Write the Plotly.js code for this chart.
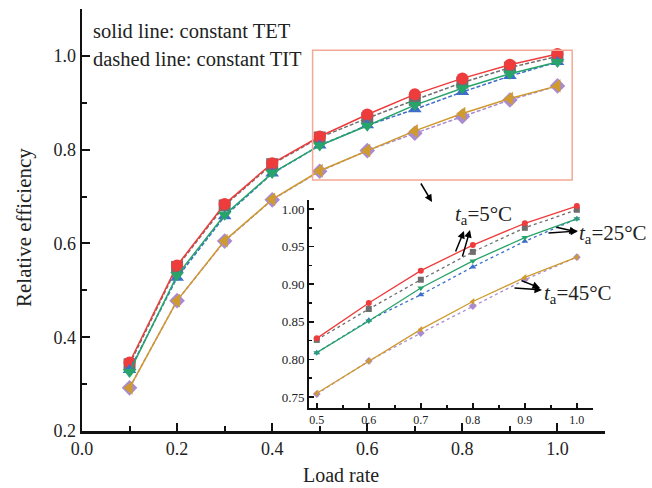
<!DOCTYPE html>
<html><head><meta charset="utf-8">
<script src="https://cdn.plot.ly/plotly-3.0.1.min.js"></script>
<style>html,body{margin:0;padding:0;background:#fff}#chart{width:652px;height:488px}</style>
</head><body><div id="chart"></div>
<script>
// ---- data ----
const loadRate = [0.1, 0.2, 0.3, 0.4, 0.5, 0.6, 0.7, 0.8, 0.9, 1.0];
const tet5  = [0.346, 0.553, 0.684, 0.771, 0.828, 0.875, 0.918, 0.952, 0.981, 1.004];
const tit5  = [0.342, 0.550, 0.681, 0.769, 0.826, 0.867, 0.906, 0.943, 0.975, 0.999];
const tet25 = [0.326, 0.532, 0.661, 0.750, 0.809, 0.851, 0.895, 0.931, 0.962, 0.987];
const tit25 = [0.330, 0.527, 0.658, 0.749, 0.809, 0.852, 0.886, 0.923, 0.957, 0.987];
const tet45 = [0.292, 0.478, 0.606, 0.694, 0.755, 0.798, 0.840, 0.877, 0.909, 0.936];
const tit45 = [0.292, 0.478, 0.605, 0.693, 0.754, 0.798, 0.835, 0.871, 0.906, 0.936];
const insetX = loadRate.slice(4);
const mainXTicks = [0.0, 0.2, 0.4, 0.6, 0.8, 1.0];
const mainYTicks = [0.2, 0.4, 0.6, 0.8, 1.0];
const insetXTicks = [0.5, 0.6, 0.7, 0.8, 0.9, 1.0];
const insetYTicks = [0.75, 0.80, 0.85, 0.90, 0.95, 1.00];

// ---- styles ----
const FONT = 'Liberation Serif, Times New Roman, serif';
const seriesDefs = [
  {y: tit5,  color: '#6e6e6e', solid: false, sym: 'square'},
  {y: tet5,  color: '#ee3b3b', solid: true,  sym: 'circle'},
  {y: tit25, color: '#3d6ec9', solid: false, sym: 'triangle-up'},
  {y: tet25, color: '#27a46a', solid: true,  sym: 'triangle-down'},
  {y: tit45, color: '#a98bd0', solid: false, sym: 'diamond'},
  {y: tet45, color: '#cf9a2e', solid: true,  sym: 'triangle-left'}
];
const traces = [];
seriesDefs.forEach(s => {
  traces.push({x: loadRate, y: s.y, xaxis: 'x', yaxis: 'y', type: 'scatter', mode: 'lines+markers',
    line: {color: s.color, width: 1.5, dash: s.solid ? 'solid' : '4px,2px'},
    marker: {symbol: s.sym, size: 12, color: s.color}});
});
seriesDefs.forEach(s => {
  traces.push({x: insetX, y: s.y.slice(4), xaxis: 'x2', yaxis: 'y2', type: 'scatter', mode: 'lines+markers',
    line: {color: s.color, width: 1.3, dash: s.solid ? 'solid' : 'dot'},
    marker: {symbol: s.sym, size: 6, color: s.color}});
});

const insetXRange = [0.485, 1.031];
const insetYRange = [0.7354, 1.012];

// pixel -> paper helpers (plot area: x 82..605, y 9..431)
const PX = px => (px - 82) / 523;
const PY = py => (431 - py) / 422;
function arrow(hx, hy, tx, ty) {
  return {xref: 'paper', yref: 'paper', x: PX(hx), y: PY(hy), ax: tx - hx, ay: ty - hy,
    showarrow: true, arrowhead: 2, arrowsize: 1, arrowwidth: 1.5, arrowcolor: '#000',
    standoff: 0, startstandoff: 0, text: ''};
}
function label(txt, px, py, size) {
  return {xref: 'paper', yref: 'paper', x: PX(px), y: PY(py), xanchor: 'left', yanchor: 'middle',
    showarrow: false, text: txt, font: {family: FONT, size: size, color: '#222'}};
}

const layout = {
  width: 652, height: 488,
  margin: {l: 82, r: 47, t: 9, b: 57},
  paper_bgcolor: '#fff', plot_bgcolor: 'rgba(0,0,0,0)',
  showlegend: false,
  font: {family: FONT, color: '#222'},
  xaxis: {domain: [0, 1], range: [0, 1.1], tickvals: mainXTicks, tickformat: '.1f',
    ticks: 'inside', ticklen: 8, tickwidth: 2, tickcolor: '#111',
    showline: true, linewidth: 2.5, linecolor: '#111', showgrid: false, zeroline: false,
    tickfont: {size: 18, family: FONT, color: '#222'},
    minor: {dtick: 0.1, tick0: 0, ticks: 'inside', ticklen: 5, tickwidth: 2, tickcolor: '#111', showgrid: false}},
  yaxis: {domain: [0, 1], range: [0.2, 1.1], tickvals: mainYTicks, tickformat: '.1f',
    ticks: 'inside', ticklen: 8, tickwidth: 2, tickcolor: '#111',
    showline: true, linewidth: 2.5, linecolor: '#111', showgrid: false, zeroline: false,
    tickfont: {size: 18, family: FONT, color: '#222'},
    minor: {dtick: 0.1, tick0: 0, ticks: 'inside', ticklen: 5, tickwidth: 2, tickcolor: '#111', showgrid: false}},
  xaxis2: {anchor: 'y2', domain: [0.434, 0.977], range: insetXRange, tickvals: insetXTicks, tickformat: '.1f',
    ticks: 'inside', ticklen: 5, tickwidth: 1.5, tickcolor: '#111',
    showline: true, linewidth: 2, linecolor: '#111', showgrid: false, zeroline: false,
    tickfont: {size: 12, family: FONT, color: '#222'},
    minor: {dtick: 0.05, tick0: 0.5, ticks: 'inside', ticklen: 3, tickwidth: 1.5, tickcolor: '#111', showgrid: false}},
  yaxis2: {anchor: 'x2', domain: [0.0545, 0.5474], range: insetYRange, tickvals: insetYTicks, tickformat: '.2f',
    ticks: 'inside', ticklen: 5, tickwidth: 1.5, tickcolor: '#111',
    showline: true, linewidth: 2, linecolor: '#111', showgrid: false, zeroline: false,
    tickfont: {size: 13, family: FONT, color: '#222'},
    minor: {dtick: 0.025, tick0: 0.75, ticks: 'inside', ticklen: 3, tickwidth: 1.5, tickcolor: '#111', showgrid: false}},
  shapes: [
    {type: 'rect', xref: 'x', yref: 'y', x0: insetXRange[0], x1: insetXRange[1], y0: insetYRange[0], y1: insetYRange[1],
     line: {color: '#f5a895', width: 1.5}, fillcolor: 'rgba(0,0,0,0)'}
  ],
  annotations: [
    label('solid line: constant TET', 91, 31, 20.5),
    label('dashed line: constant TIT', 91, 59, 20.5),
    {xref: 'paper', yref: 'paper', x: PX(24), y: PY(228), textangle: -90, showarrow: false,
     text: 'Relative efficiency', font: {family: FONT, size: 21, color: '#222'}, xanchor: 'center', yanchor: 'middle'},
    {xref: 'paper', yref: 'paper', x: PX(341), y: PY(475), showarrow: false,
     text: 'Load rate', font: {family: FONT, size: 20, color: '#222'}, xanchor: 'center', yanchor: 'middle'},
    label('<i>t</i><sub>a</sub>=5°C', 453, 215, 21),
    label('<i>t</i><sub>a</sub>=25°C', 577, 234, 21),
    label('<i>t</i><sub>a</sub>=45°C', 542, 294, 21),
    arrow(432, 202, 420, 182),
    arrow(464, 231, 455, 253),
    arrow(470, 230, 462, 258),
    arrow(578, 231, 547, 233),
    arrow(577, 232, 555, 227),
    arrow(542, 290, 513, 288),
    arrow(540, 288, 520, 280)
  ]
};

Plotly.newPlot('chart', traces, layout, {displayModeBar: false, staticPlot: true});
</script>
</body></html>
